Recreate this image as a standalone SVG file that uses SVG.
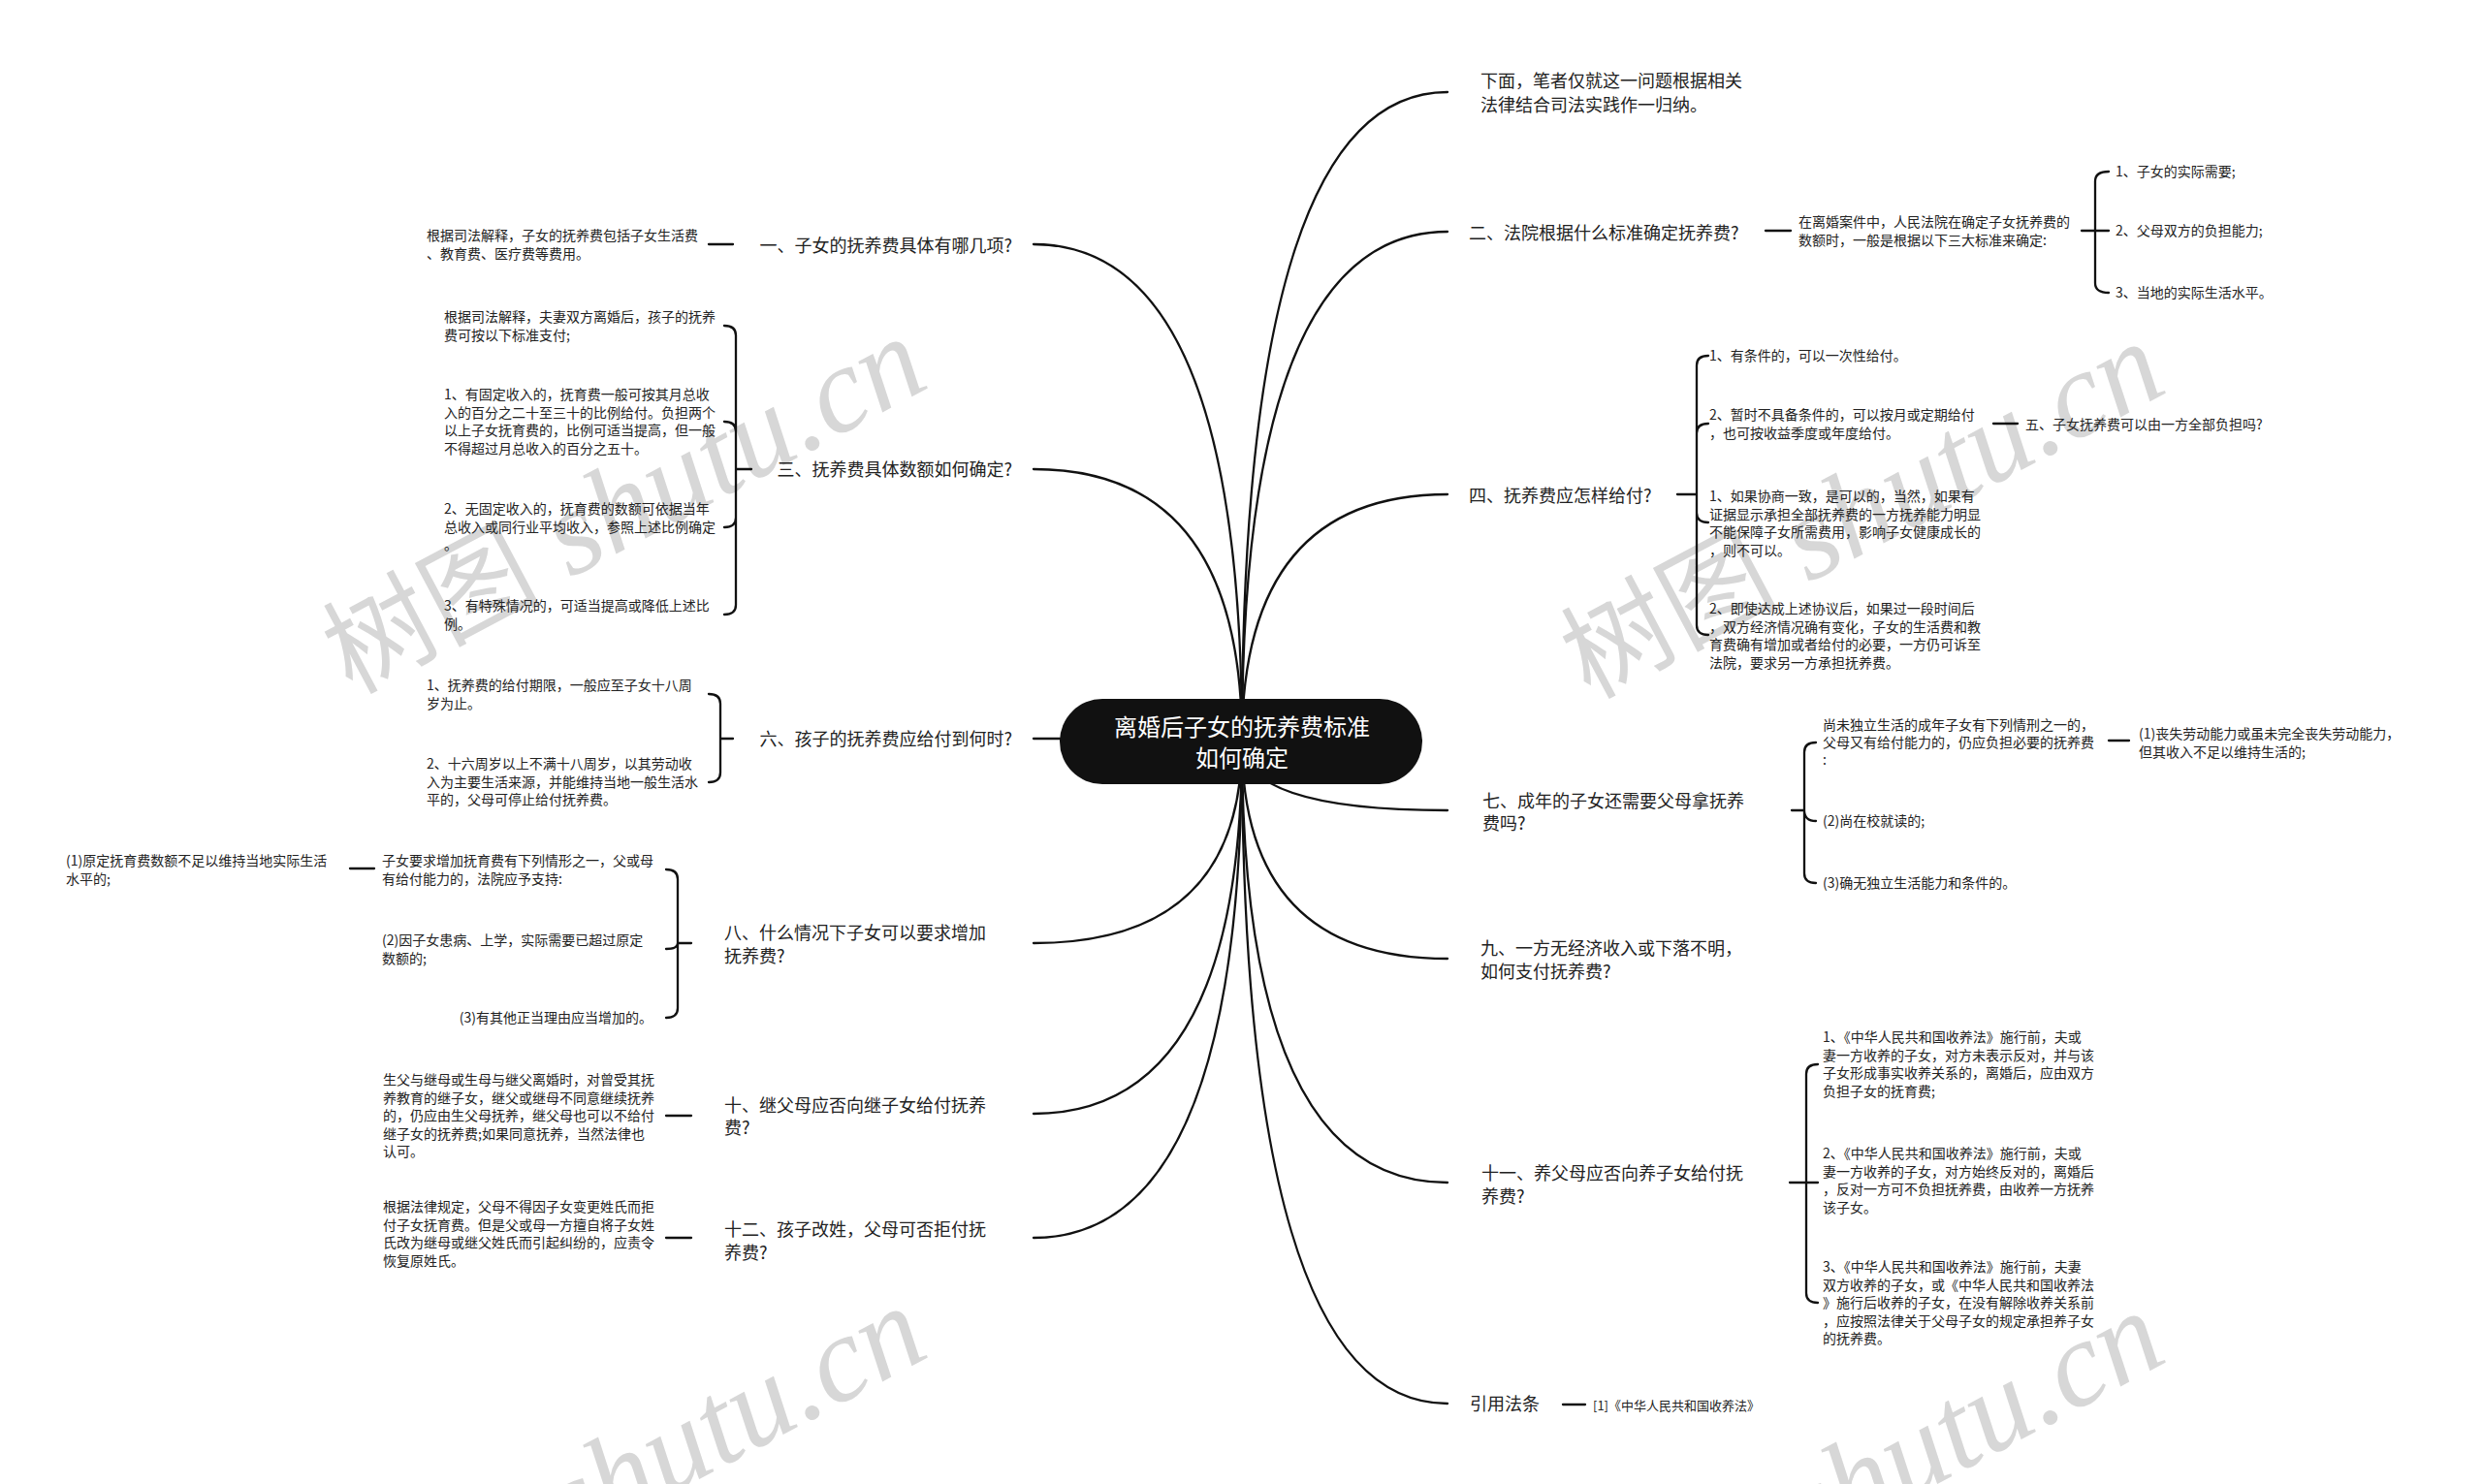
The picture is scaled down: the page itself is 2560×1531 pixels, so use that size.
<svg xmlns="http://www.w3.org/2000/svg" width="2560" height="1531" viewBox="0 0 2560 1531">
<style>
text{font-family:"Noto Sans CJK SC","Noto Sans",sans-serif;fill:#222}
.m{font-size:18px}
.s{font-size:14px}
.e{text-anchor:end}
.c{fill:none;stroke:#111;stroke-width:2.3;stroke-linecap:round}
.wm{font-family:"Liberation Serif",serif;font-style:italic;font-size:126px;fill:#d7d7d7}
.wmc{font-family:"Noto Sans CJK SC",sans-serif;font-style:normal;font-size:112px}
.ctr{font-size:24px;fill:#fff;text-anchor:middle}
</style>
<rect width="2560" height="1531" fill="#fff"/>
<g id="watermarks">
<text class="wm" text-anchor="end" x="962" y="398" transform="rotate(-28 962 398)"><tspan class="wmc">树图</tspan> shutu.cn</text>
<text class="wm" text-anchor="end" x="2239" y="403" transform="rotate(-28 2239 403)"><tspan class="wmc">树图</tspan> shutu.cn</text>
<text class="wm" text-anchor="end" x="962" y="1398" transform="rotate(-28 962 1398)"><tspan class="wmc">树图</tspan> shutu.cn</text>
<text class="wm" text-anchor="end" x="2239" y="1403" transform="rotate(-28 2239 1403)"><tspan class="wmc">树图</tspan> shutu.cn</text>
</g>
<g id="connectors">
<path class="c" d="M1281,765 Q1281,95 1493,95"/>
<path class="c" d="M1281,765 Q1281,239 1493,239"/>
<path class="c" d="M1281,765 Q1281,510 1493,510"/>
<path class="c" d="M1281,765 Q1281,836 1493,836"/>
<path class="c" d="M1281,765 Q1281,989 1493,989"/>
<path class="c" d="M1281,765 Q1281,1220 1493,1220"/>
<path class="c" d="M1281,765 Q1281,1448 1493,1448"/>
<path class="c" d="M1281,765 Q1281,252 1066,252"/>
<path class="c" d="M1281,765 Q1281,484 1066,484"/>
<path class="c" d="M1066,762 L1281,762"/>
<path class="c" d="M1281,765 Q1281,973 1066,973"/>
<path class="c" d="M1281,765 Q1281,1149 1066,1149"/>
<path class="c" d="M1281,765 Q1281,1277 1066,1277"/>
<path class="c" d="M1821,238 L1847,238"/>
<path class="c" d="M2147,238 L2175,238 M2161,238 L2161,187 Q2161,177 2175,177 M2161,238 L2161,292 Q2161,302 2175,302"/>
<path class="c" d="M1730,510 L1750,510 M1750,510 L1750,377 Q1750,367 1762,367 M1750,510 L1750,447 Q1750,437 1762,437 M1750,510 L1750,529 Q1750,539 1762,539 M1750,510 L1750,645 Q1750,655 1762,655"/>
<path class="c" d="M2056,437 L2081,437"/>
<path class="c" d="M1848,836 L1861,836 M1861,836 L1861,776 Q1861,766 1873,766 M1861,836 Q1861,847 1873,847 M1861,836 L1861,901 Q1861,911 1873,911"/>
<path class="c" d="M2175,764 L2196,764"/>
<path class="c" d="M1846,1220 L1875,1220 M1863,1220 L1863,1108 Q1863,1098 1875,1098 M1863,1220 L1863,1334 Q1863,1344 1875,1344"/>
<path class="c" d="M1612,1449 L1635,1449"/>
<path class="c" d="M756,252 L731,252"/>
<path class="c" d="M775,484 L759,484 M759,484 L759,346 Q759,336 747,336 M759,484 L759,445 Q759,435 747,435 M759,484 L759,534 Q759,544 747,544 M759,484 L759,624 Q759,634 747,634"/>
<path class="c" d="M756,762 L743,762 M743,762 L743,726 Q743,716 731,716 M743,762 L743,797 Q743,807 731,807"/>
<path class="c" d="M713,973 L699,973 M699,973 L699,907 Q699,897 687,897 M699,973 Q699,979 687,979 M699,973 L699,1040 Q699,1050 687,1050"/>
<path class="c" d="M386,896 L361,896"/>
<path class="c" d="M713,1151 L687,1151"/>
<path class="c" d="M713,1277 L687,1277"/>
</g>
<g id="center">
<rect x="1093" y="721" width="374" height="88" rx="44" fill="#111"/>
<text class="ctr"><tspan x="1281" y="759">离婚后子女的抚养费标准</tspan><tspan x="1281" y="791">如何确定</tspan></text>
</g>
<g id="n-intro"><text class="m"><tspan x="1527" y="90">下面，笔者仅就这一问题根据相关</tspan><tspan x="1527" y="115">法律结合司法实践作一归纳。</tspan></text></g>
<g id="n-2"><text class="m" x="1515" y="247">二、法院根据什么标准确定抚养费?</text></g>
<g id="n-2-c"><text class="s"><tspan x="1855" y="234">在离婚案件中，人民法院在确定子女抚养费的</tspan><tspan x="1855" y="253">数额时，一般是根据以下三大标准来确定:</tspan></text></g>
<g id="n-2-c1"><text class="s" x="2182" y="182">1、子女的实际需要;</text></g>
<g id="n-2-c2"><text class="s" x="2182" y="243">2、父母双方的负担能力;</text></g>
<g id="n-2-c3"><text class="s" x="2182" y="307">3、当地的实际生活水平。</text></g>
<g id="n-4"><text class="m" x="1515" y="518">四、抚养费应怎样给付?</text></g>
<g id="n-4-a"><text class="s" x="1763" y="372">1、有条件的，可以一次性给付。</text></g>
<g id="n-4-b"><text class="s"><tspan x="1763" y="433">2、暂时不具备条件的，可以按月或定期给付</tspan><tspan x="1763" y="452">，也可按收益季度或年度给付。</tspan></text></g>
<g id="n-5"><text class="s" x="2089" y="443">五、子女抚养费可以由一方全部负担吗?</text></g>
<g id="n-4-c"><text class="s"><tspan x="1763" y="517">1、如果协商一致，是可以的，当然，如果有</tspan><tspan x="1763" y="535.5">证据显示承担全部抚养费的一方抚养能力明显</tspan><tspan x="1763" y="554">不能保障子女所需费用，影响子女健康成长的</tspan><tspan x="1763" y="572.5">，则不可以。</tspan></text></g>
<g id="n-4-d"><text class="s"><tspan x="1763" y="633">2、即使达成上述协议后，如果过一段时间后</tspan><tspan x="1763" y="651.5">，双方经济情况确有变化，子女的生活费和教</tspan><tspan x="1763" y="670">育费确有增加或者给付的必要，一方仍可诉至</tspan><tspan x="1763" y="688.5">法院，要求另一方承担抚养费。</tspan></text></g>
<g id="n-7"><text class="m"><tspan x="1529" y="833">七、成年的子女还需要父母拿抚养</tspan><tspan x="1529" y="856">费吗?</tspan></text></g>
<g id="n-7-a"><text class="s"><tspan x="1880" y="753">尚未独立生活的成年子女有下列情刑之一的，</tspan><tspan x="1880" y="771">父母又有给付能力的，仍应负担必要的抚养费</tspan><tspan x="1880" y="789">:</tspan></text></g>
<g id="n-7-a1"><text class="s"><tspan x="2206" y="762">(1)丧失劳动能力或虽未完全丧失劳动能力，</tspan><tspan x="2206" y="781">但其收入不足以维持生活的;</tspan></text></g>
<g id="n-7-b"><text class="s" x="1880" y="852">(2)尚在校就读的;</text></g>
<g id="n-7-c"><text class="s" x="1880" y="916">(3)确无独立生活能力和条件的。</text></g>
<g id="n-9"><text class="m"><tspan x="1527" y="985">九、一方无经济收入或下落不明，</tspan><tspan x="1527" y="1009">如何支付抚养费?</tspan></text></g>
<g id="n-11"><text class="m"><tspan x="1528" y="1217">十一、养父母应否向养子女给付抚</tspan><tspan x="1528" y="1241">养费?</tspan></text></g>
<g id="n-11-a"><text class="s"><tspan x="1880" y="1075">1、《中华人民共和国收养法》施行前，夫或</tspan><tspan x="1880" y="1093.5">妻一方收养的子女，对方未表示反对，并与该</tspan><tspan x="1880" y="1112">子女形成事实收养关系的，离婚后，应由双方</tspan><tspan x="1880" y="1130.5">负担子女的抚育费;</tspan></text></g>
<g id="n-11-b"><text class="s"><tspan x="1880" y="1195">2、《中华人民共和国收养法》施行前，夫或</tspan><tspan x="1880" y="1213.5">妻一方收养的子女，对方始终反对的，离婚后</tspan><tspan x="1880" y="1232">，反对一方可不负担抚养费，由收养一方抚养</tspan><tspan x="1880" y="1250.5">该子女。</tspan></text></g>
<g id="n-11-c"><text class="s"><tspan x="1880" y="1312">3、《中华人民共和国收养法》施行前，夫妻</tspan><tspan x="1880" y="1330.5">双方收养的子女，或《中华人民共和国收养法</tspan><tspan x="1880" y="1349">》施行后收养的子女，在没有解除收养关系前</tspan><tspan x="1880" y="1367.5">，应按照法律关于父母子女的规定承担养子女</tspan><tspan x="1880" y="1386">的抚养费。</tspan></text></g>
<g id="n-law"><text class="m" x="1516" y="1455">引用法条</text></g>
<g id="n-law-1"><text class="s" x="1643" y="1455" style="font-size:13px">[1]《中华人民共和国收养法》</text></g>
<g id="n-1"><text class="m e" x="1044" y="260">一、子女的抚养费具体有哪几项?</text></g>
<g id="n-1-a"><text class="s"><tspan x="440" y="248">根据司法解释，子女的抚养费包括子女生活费</tspan><tspan x="440" y="267">、教育费、医疗费等费用。</tspan></text></g>
<g id="n-3"><text class="m e" x="1044" y="491">三、抚养费具体数额如何确定?</text></g>
<g id="n-3-a"><text class="s"><tspan x="458" y="332">根据司法解释，夫妻双方离婚后，孩子的抚养</tspan><tspan x="458" y="350.5">费可按以下标准支付;</tspan></text></g>
<g id="n-3-b"><text class="s"><tspan x="458" y="412">1、有固定收入的，抚育费一般可按其月总收</tspan><tspan x="458" y="430.5">入的百分之二十至三十的比例给付。负担两个</tspan><tspan x="458" y="449">以上子女抚育费的，比例可适当提高，但一般</tspan><tspan x="458" y="467.5">不得超过月总收入的百分之五十。</tspan></text></g>
<g id="n-3-c"><text class="s"><tspan x="458" y="530">2、无固定收入的，抚育费的数额可依据当年</tspan><tspan x="458" y="548.5">总收入或同行业平均收入，参照上述比例确定</tspan><tspan x="458" y="567">。</tspan></text></g>
<g id="n-3-d"><text class="s"><tspan x="458" y="630">3、有特殊情况的，可适当提高或降低上述比</tspan><tspan x="458" y="648.5">例。</tspan></text></g>
<g id="n-6"><text class="m e" x="1044" y="769">六、孩子的抚养费应给付到何时?</text></g>
<g id="n-6-a"><text class="s"><tspan x="440" y="712">1、抚养费的给付期限，一般应至子女十八周</tspan><tspan x="440" y="730.5">岁为止。</tspan></text></g>
<g id="n-6-b"><text class="s"><tspan x="440" y="793">2、十六周岁以上不满十八周岁，以其劳动收</tspan><tspan x="440" y="811.5">入为主要生活来源，并能维持当地一般生活水</tspan><tspan x="440" y="830">平的，父母可停止给付抚养费。</tspan></text></g>
<g id="n-8"><text class="m"><tspan x="747" y="969">八、什么情况下子女可以要求增加</tspan><tspan x="747" y="993">抚养费?</tspan></text></g>
<g id="n-8-a"><text class="s"><tspan x="394" y="893">子女要求增加抚育费有下列情形之一，父或母</tspan><tspan x="394" y="911.5">有给付能力的，法院应予支持:</tspan></text></g>
<g id="n-8-a1"><text class="s"><tspan x="68" y="893">(1)原定抚育费数额不足以维持当地实际生活</tspan><tspan x="68" y="911.5">水平的;</tspan></text></g>
<g id="n-8-b"><text class="s"><tspan x="394" y="975">(2)因子女患病、上学，实际需要已超过原定</tspan><tspan x="394" y="993.5">数额的;</tspan></text></g>
<g id="n-8-c"><text class="s e" x="673" y="1055">(3)有其他正当理由应当增加的。</text></g>
<g id="n-10"><text class="m"><tspan x="747" y="1147">十、继父母应否向继子女给付抚养</tspan><tspan x="747" y="1170">费?</tspan></text></g>
<g id="n-10-a"><text class="s"><tspan x="395" y="1119">生父与继母或生母与继父离婚时，对曾受其抚</tspan><tspan x="395" y="1137.5">养教育的继子女，继父或继母不同意继续抚养</tspan><tspan x="395" y="1156">的，仍应由生父母抚养，继父母也可以不给付</tspan><tspan x="395" y="1174.5">继子女的抚养费;如果同意抚养，当然法律也</tspan><tspan x="395" y="1193">认可。</tspan></text></g>
<g id="n-12"><text class="m"><tspan x="747" y="1275">十二、孩子改姓，父母可否拒付抚</tspan><tspan x="747" y="1299">养费?</tspan></text></g>
<g id="n-12-a"><text class="s"><tspan x="395" y="1250">根据法律规定，父母不得因子女变更姓氏而拒</tspan><tspan x="395" y="1268.5">付子女抚育费。但是父或母一方擅自将子女姓</tspan><tspan x="395" y="1287">氏改为继母或继父姓氏而引起纠纷的，应责令</tspan><tspan x="395" y="1305.5">恢复原姓氏。</tspan></text></g>
</svg>
